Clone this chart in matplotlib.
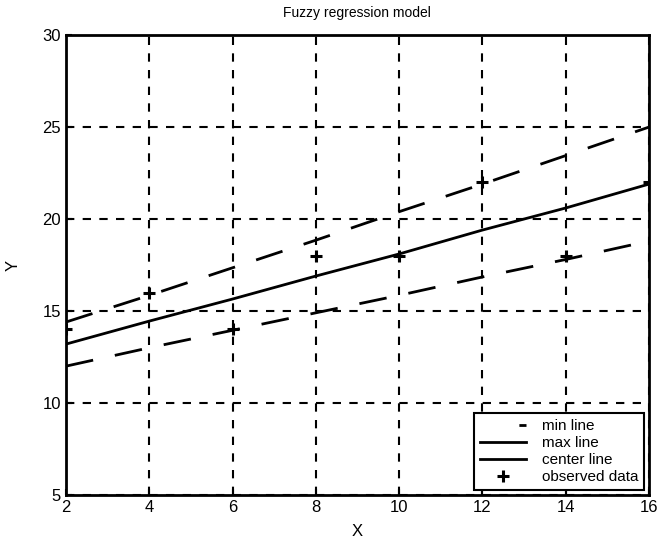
import matplotlib.pyplot as plt
from matplotlib.lines import Line2D

plt.rcParams["font.family"] = ["Liberation Sans", "DejaVu Sans"]

# data
x_obs = [2, 4, 6, 8, 10, 12, 14, 16]
y_obs = [14, 16, 14, 18, 18, 22, 18, 22]

x_line = [2, 4, 6, 8, 10, 12, 14, 16]
y_min = [12.0, 13.0, 13.95, 14.9, 15.85, 16.85, 17.8, 18.8]
y_max = [14.4, 15.85, 17.35, 18.85, 20.4, 21.9, 23.45, 25.0]
y_center = [13.2, 14.45, 15.65, 16.9, 18.1, 19.4, 20.6, 21.9]

x_ticks = [2, 4, 6, 8, 10, 12, 14, 16]
y_ticks = [5, 10, 15, 20, 25, 30]

fig = plt.figure(figsize=(6.6, 5.42), dpi=100)
ax = fig.add_axes([0.1, 0.087, 0.883, 0.848])

ax.plot(x_line, y_min, color="black", linewidth=2.0, linestyle=(0, (10, 8)))
ax.plot(x_line, y_max, color="black", linewidth=2.0, linestyle=(0, (10, 8)))
ax.plot(x_line, y_center, color="black", linewidth=2.0)
ax.plot(x_obs, y_obs, linestyle="none", marker="+", markersize=9,
        markeredgewidth=2.2, color="black")

ax.set_xlim(2, 16)
ax.set_ylim(5, 30)
ax.set_xticks(x_ticks)
ax.set_yticks(y_ticks)
ax.grid(True, color="black", linestyle=(0, (4, 4)), linewidth=1.5)
ax.tick_params(direction="in", length=4, width=1.5, labelsize=12)
for s in ax.spines.values():
    s.set_linewidth(2.0)

ax.set_title("Fuzzy regression model", fontsize=10, pad=13)
ax.set_xlabel("X", fontsize=12, labelpad=7)
ax.set_ylabel("Y", fontsize=12, labelpad=16)

# legend: min line shown as a short centred dash
handles = [
    Line2D([0], [0], color="black", linewidth=2.0, linestyle=(40, (4, 50))),
    Line2D([0], [0], color="black", linewidth=2.0),
    Line2D([0], [0], color="black", linewidth=2.0),
    Line2D([0], [0], color="black", linestyle="none", marker="+", markersize=8, markeredgewidth=2.2),
]
labels = ["min line", "max line", "center line", "observed data"]
leg = ax.legend(handles, labels, loc="lower right", fontsize=11, frameon=True,
                fancybox=False, edgecolor="black", framealpha=1, borderaxespad=0.3,
                handlelength=3.0, handletextpad=1.0, labelspacing=0.2, borderpad=0.4)
leg.get_frame().set_linewidth(1.5)

fig.savefig("out.png", dpi=100)
